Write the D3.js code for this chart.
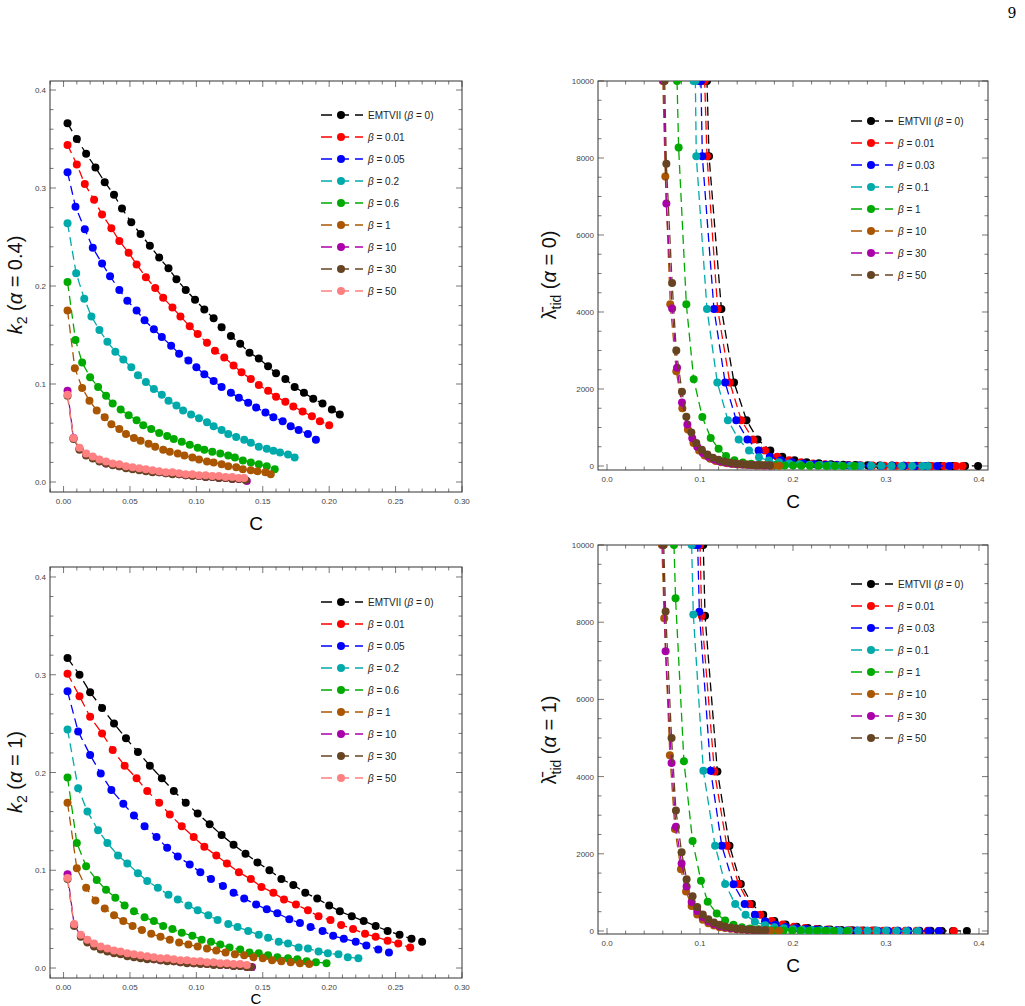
<!DOCTYPE html>
<html><head><meta charset="utf-8">
<script src="https://cdn.jsdelivr.net/npm/d3@7"></script>
<style>body{margin:0;background:#fff}text{font-family:"Liberation Sans",Arial,sans-serif}</style>
</head><body><svg id="c" width="1025" height="1006"></svg>
<script>
// ---------- k2, alpha = 0.4 ----------
const k2a04_black=[[.003,.366],[.010,.350],[.017,.335],[.024,.321],[.031,.306],[.038,.293],[.044,.279],[.051,.265],[.058,.253],[.065,.241],[.072,.229],[.079,.218],[.085,.207],[.092,.196],[.099,.186],[.106,.176],[.113,.167],[.119,.158],[.126,.149],[.133,.141],[.140,.132],[.147,.126],[.154,.118],[.160,.111],[.167,.105],[.174,.097],[.181,.091],[.188,.085],[.195,.080],[.202,.074],[.208,.069]];
const k2a04_red=[[.003,.344],[.010,.324],[.016,.304],[.023,.288],[.029,.273],[.036,.259],[.042,.246],[.049,.234],[.055,.222],[.062,.209],[.069,.198],[.075,.188],[.082,.178],[.088,.169],[.095,.159],[.101,.151],[.108,.142],[.114,.134],[.121,.127],[.128,.119],[.134,.112],[.141,.105],[.147,.099],[.154,.093],[.160,.087],[.167,.082],[.173,.077],[.180,.072],[.187,.067],[.193,.062],[.200,.058]];
const k2a04_blue=[[.003,.316],[.009,.281],[.016,.258],[.022,.239],[.029,.223],[.035,.210],[.042,.196],[.048,.185],[.055,.175],[.061,.165],[.068,.156],[.074,.148],[.081,.139],[.087,.131],[.094,.124],[.100,.117],[.106,.110],[.113,.103],[.119,.097],[.126,.091],[.132,.086],[.139,.081],[.145,.076],[.152,.071],[.158,.066],[.165,.062],[.171,.057],[.177,.053],[.184,.049],[.190,.043]];
const k2a04_cyan=[[.003,.264],[.0095,.213],[.0156,.187],[.021,.169],[.027,.155],[.033,.143],[.039,.133],[.045,.125],[.051,.117],[.056,.109],[.062,.102],[.068,.095],[.074,.089],[.079,.083],[.085,.078],[.090,.073],[.096,.069],[.102,.065],[.108,.061],[.113,.057],[.119,.053],[.124,.049],[.130,.046],[.136,.043],[.141,.040],[.147,.036],[.153,.034],[.158,.032],[.163,.030],[.169,.028],[.174,.025]];
const k2a04_green=[[.003,.204],[.009,.145],[.014,.122],[.020,.107],[.026,.097],[.032,.088],[.037,.080],[.043,.074],[.049,.068],[.055,.063],[.060,.058],[.066,.054],[.072,.050],[.078,.047],[.083,.044],[.089,.041],[.095,.038],[.101,.035],[.106,.033],[.112,.031],[.118,.029],[.124,.027],[.129,.025],[.135,.022],[.141,.020],[.147,.018],[.153,.016],[.159,.013]];
const k2a04_orange=[[.003,.175],[.0085,.116],[.014,.096],[.0195,.083],[.025,.073],[.031,.066],[.036,.059],[.042,.054],[.047,.049],[.053,.045],[.058,.042],[.064,.039],[.069,.036],[.075,.033],[.080,.031],[.086,.029],[.091,.027],[.097,.025],[.102,.023],[.108,.021],[.113,.020],[.119,.018],[.124,.016],[.130,.015],[.135,.013],[.141,.012],[.146,.011],[.152,.010],[.156,.008]];
const k2a04_purple=[[.003,.093],[.0075,.045],[.012,.034],[.017,.028],[.022,.025],[.027,.022],[.032,.019],[.037,.018],[.042,.016],[.047,.015],[.052,.014],[.057,.013],[.062,.012],[.067,.011],[.072,.010],[.077,.009],[.082,.009],[.087,.008],[.092,.007],[.097,.007],[.102,.006],[.107,.005],[.112,.005],[.117,.004],[.122,.004],[.127,.003],[.132,.003],[.138,.001]];
const k2a04_brown=[[.003,.088],[.0075,.044],[.012,.033],[.017,.027],[.022,.024],[.027,.021],[.032,.019],[.037,.017],[.042,.016],[.047,.014],[.052,.013],[.057,.012],[.062,.011],[.067,.010],[.072,.010],[.077,.009],[.082,.008],[.087,.008],[.092,.007],[.097,.006],[.102,.006],[.107,.005],[.112,.005],[.117,.004],[.122,.004],[.127,.003],[.132,.003],[.137,.002]];
const k2a04_pink=[[.003,.089],[.0075,.045],[.012,.035],[.017,.029],[.022,.026],[.027,.023],[.032,.021],[.037,.019],[.042,.018],[.047,.016],[.052,.015],[.057,.014],[.062,.013],[.067,.012],[.072,.011],[.077,.010],[.082,.010],[.087,.009],[.092,.008],[.097,.008],[.102,.007],[.107,.007],[.112,.006],[.117,.006],[.122,.005],[.127,.005],[.132,.004],[.136,.004]];
// ---------- k2, alpha = 1 ----------
const k2a1_black=[[.003,.317],[.012,.300],[.020,.282],[.029,.266],[.038,.250],[.047,.235],[.056,.221],[.065,.207],[.074,.194],[.083,.181],[.092,.169],[.101,.158],[.110,.147],[.119,.136],[.128,.126],[.137,.117],[.146,.108],[.155,.100],[.164,.091],[.173,.085],[.182,.077],[.191,.071],[.200,.064],[.208,.058],[.217,.053],[.226,.048],[.235,.043],[.244,.038],[.253,.034],[.262,.030],[.270,.027]];
const k2a1_red=[[.003,.301],[.012,.278],[.020,.257],[.029,.240],[.037,.223],[.046,.207],[.055,.194],[.063,.181],[.072,.169],[.080,.157],[.089,.145],[.098,.134],[.106,.124],[.115,.115],[.123,.107],[.132,.098],[.141,.091],[.149,.083],[.158,.077],[.166,.070],[.175,.065],[.184,.059],[.192,.053],[.201,.049],[.209,.044],[.218,.040],[.227,.035],[.235,.032],[.244,.028],[.252,.025],[.261,.021]];
const k2a1_blue=[[.003,.283],[.011,.242],[.020,.218],[.028,.199],[.036,.182],[.045,.168],[.053,.156],[.061,.145],[.070,.134],[.078,.123],[.086,.114],[.095,.106],[.103,.098],[.111,.091],[.120,.084],[.128,.077],[.136,.071],[.145,.065],[.153,.060],[.161,.056],[.170,.050],[.178,.046],[.186,.042],[.195,.038],[.203,.033],[.211,.030],[.220,.027],[.228,.023],[.237,.019],[.245,.016]];
const k2a1_cyan=[[.003,.244],[.011,.184],[.018,.160],[.026,.141],[.033,.128],[.041,.115],[.048,.107],[.056,.097],[.063,.089],[.071,.082],[.079,.075],[.086,.070],[.094,.064],[.101,.059],[.109,.054],[.116,.049],[.124,.045],[.131,.042],[.139,.038],[.147,.034],[.154,.031],[.162,.027],[.169,.025],[.177,.021],[.184,.020],[.192,.017],[.199,.015],[.207,.014],[.214,.011],[.222,.010]];
const k2a1_green=[[.003,.195],[.010,.128],[.017,.104],[.025,.090],[.032,.080],[.039,.072],[.046,.064],[.053,.058],[.061,.052],[.068,.048],[.075,.043],[.082,.040],[.089,.036],[.097,.033],[.104,.029],[.111,.027],[.118,.024],[.125,.021],[.133,.019],[.140,.016],[.147,.015],[.154,.013],[.161,.011],[.169,.010],[.176,.009],[.183,.007],[.190,.006],[.198,.005]];
const k2a1_orange=[[.003,.169],[.010,.102],[.017,.082],[.024,.069],[.031,.061],[.038,.054],[.045,.048],[.052,.043],[.059,.039],[.066,.035],[.073,.032],[.080,.029],[.087,.026],[.094,.024],[.101,.022],[.108,.020],[.115,.018],[.122,.016],[.129,.014],[.136,.013],[.143,.011],[.150,.010],[.157,.008],[.164,.007],[.171,.006],[.178,.005],[.185,.004]];
const k2a1_purple=[[.003,.096],[.008,.044],[.013,.033],[.018,.027],[.023,.023],[.028,.020],[.033,.018],[.038,.016],[.043,.015],[.048,.013],[.053,.012],[.058,.011],[.063,.010],[.068,.009],[.073,.008],[.078,.008],[.083,.007],[.088,.006],[.093,.006],[.098,.005],[.103,.005],[.108,.004],[.113,.004],[.118,.003],[.123,.003],[.128,.002],[.133,.002],[.138,.001],[.142,.001]];
const k2a1_brown=[[.003,.091],[.008,.043],[.013,.032],[.018,.026],[.023,.022],[.028,.019],[.033,.017],[.038,.015],[.043,.014],[.048,.012],[.053,.011],[.058,.010],[.063,.009],[.068,.009],[.073,.008],[.078,.007],[.083,.007],[.088,.006],[.093,.005],[.098,.005],[.103,.004],[.108,.004],[.113,.003],[.118,.003],[.123,.003],[.128,.002],[.133,.002],[.138,.001],[.141,.001]];
const k2a1_pink=[[.003,.092],[.008,.045],[.013,.034],[.018,.029],[.023,.025],[.028,.022],[.033,.020],[.038,.018],[.043,.017],[.048,.015],[.053,.014],[.058,.013],[.063,.012],[.068,.011],[.073,.010],[.078,.010],[.083,.009],[.088,.008],[.093,.008],[.098,.007],[.103,.007],[.108,.006],[.113,.006],[.118,.005],[.123,.005],[.128,.004],[.133,.004],[.138,.003]];
// ---------- lambda, alpha = 0 ----------
const lam0_black=[[.105,10000],[.1075,10000],[.1097,8045],[.123,4075],[.1366,2170],[.150,1190],[.162,690],[.1756,400],[.1885,240],[.2016,150],[.2147,100],[.2278,70],[.2409,48],[.254,34],[.2671,25],[.2802,18],[.2933,13],[.3064,10],[.3195,7],[.3326,5],[.3457,4],[.3588,3],[.3719,2],[.385,2],[.399,1]];
const lam0_red=[[.1025,10000],[.1050,10000],[.1075,8045],[.119,4075],[.132,2170],[.1444,1190],[.157,690],[.170,400],[.183,240],[.196,150],[.2088,100],[.2216,68],[.2344,47],[.2472,33],[.26,24],[.2728,17],[.2856,12],[.2984,9],[.3112,7],[.324,5],[.3368,4],[.3496,3],[.3624,2],[.3752,2],[.3824,1]];
const lam0_blue=[[.0990,10000],[.1010,10000],[.1025,8045],[.115,4075],[.127,2170],[.139,1190],[.151,690],[.163,400],[.175,240],[.187,150],[.199,100],[.211,68],[.223,47],[.235,33],[.247,24],[.259,17],[.271,12],[.283,9],[.295,7],[.307,5],[.319,4],[.331,3],[.343,2],[.355,2],[.368,1]];
const lam0_cyan=[[.0930,10000],[.0950,10000],[.0960,8045],[.1075,4075],[.1186,2170],[.130,1190],[.1416,690],[.1527,400],[.1634,225],[.174,140],[.185,95],[.196,65],[.207,45],[.218,32],[.229,23],[.240,17],[.251,12],[.262,9],[.273,7],[.284,5],[.295,4],[.306,3],[.317,2],[.328,2],[.339,1],[.345,1]];
const lam0_green=[[.0753,10000],[.077,8270],[.0853,4200],[.0932,2250],[.1025,1270],[.1115,730],[.120,450],[.128,260],[.137,150],[.146,90],[.155,60],[.164,40],[.173,28],[.182,20],[.191,14],[.200,10],[.209,8],[.218,6],[.227,4],[.236,3],[.245,2],[.254,2],[.266,1]];
const lam0_orange=[[.0600,10000],[.0627,7520],[.068,4200],[.0745,2460],[.081,1500],[.087,950],[.093,600],[.099,400],[.105,270],[.111,185],[.117,130],[.123,95],[.129,70],[.135,52],[.141,40],[.147,30],[.153,23],[.159,18],[.165,14],[.171,11],[.177,8],[.185,6]];
const lam0_purple=[[.0610,10000],[.0638,6820],[.070,4090],[.0753,2550],[.0806,1650],[.0864,1080],[.0917,720],[.097,500],[.103,340],[.109,240],[.115,170],[.121,125],[.127,92],[.133,68],[.139,52],[.145,40],[.151,30],[.157,23],[.163,18],[.169,14],[.175,11]];
const lam0_brown=[[.0620,10000],[.0638,7850],[.070,4750],[.0745,3000],[.0806,1930],[.0853,1280],[.0907,870],[.096,600],[.102,420],[.108,300],[.114,215],[.120,160],[.126,118],[.132,88],[.138,66],[.144,50],[.150,38],[.156,29],[.162,22],[.168,17],[.175,13]];
// ---------- lambda, alpha = 1 ----------
const lam1_black=[[.1010,10000],[.1035,10000],[.1054,8170],[.1187,4130],[.1317,2210],[.1439,1220],[.1558,700],[.168,420],[.180,260],[.192,165],[.204,110],[.216,75],[.228,52],[.240,37],[.252,27],[.264,20],[.276,15],[.288,11],[.300,8],[.312,6],[.324,5],[.336,4],[.348,3],[.360,2],[.372,2],[.387,1]];
const lam1_red=[[.0975,10000],[.1000,10000],[.1018,8170],[.1155,4130],[.1288,2210],[.1414,1220],[.153,700],[.165,420],[.177,260],[.189,165],[.201,110],[.213,75],[.225,52],[.237,37],[.249,27],[.261,20],[.273,15],[.285,11],[.297,8],[.309,6],[.321,5],[.333,4],[.345,3],[.357,2],[.373,1]];
const lam1_blue=[[.0950,10000],[.0975,10000],[.0993,8270],[.1115,4150],[.1234,2210],[.136,1210],[.148,700],[.159,420],[.170,255],[.181,160],[.192,105],[.203,72],[.214,50],[.225,36],[.236,26],[.247,19],[.258,14],[.269,10],[.280,8],[.291,6],[.302,5],[.313,4],[.324,3],[.335,2],[.346,2],[.357,1]];
const lam1_cyan=[[.0910,10000],[.0928,8200],[.1036,4150],[.1162,2210],[.127,1220],[.1378,700],[.149,420],[.159,240],[.170,150],[.180,100],[.190,68],[.200,47],[.210,34],[.220,25],[.230,18],[.240,13],[.250,10],[.260,8],[.270,6],[.280,5],[.290,4],[.300,3],[.311,2],[.322,2],[.334,1]];
const lam1_green=[[.0720,10000],[.0737,8620],[.0827,4400],[.092,2330],[.101,1300],[.1083,760],[.118,450],[.127,270],[.136,160],[.145,100],[.154,65],[.163,44],[.172,30],[.181,21],[.190,15],[.199,11],[.208,8],[.217,6],[.226,4],[.235,3],[.244,2],[.258,1]];
const lam1_orange=[[.0590,10000],[.0615,8100],[.0676,4550],[.073,2640],[.0795,1600],[.085,1020],[.091,650],[.097,430],[.103,290],[.109,200],[.115,140],[.121,100],[.127,75],[.133,55],[.139,42],[.145,32],[.151,25],[.157,19],[.163,15],[.169,12],[.176,9],[.185,7]];
const lam1_purple=[[.0600,10000],[.063,7250],[.0694,4350],[.0741,2700],[.0802,1750],[.0856,1150],[.091,750],[.097,520],[.103,360],[.109,250],[.115,180],[.121,130],[.127,96],[.133,72],[.139,55],[.145,42],[.151,32],[.157,25],[.163,19],[.170,15]];
const lam1_brown=[[.0610,10000],[.063,8280],[.0694,5000],[.0741,3120],[.0802,2040],[.0856,1340],[.092,900],[.097,620],[.103,430],[.109,305],[.115,220],[.121,160],[.127,118],[.133,88],[.139,66],[.145,50],[.151,38],[.157,29],[.163,22],[.170,17]];

const k2Betas=["EMTVII (β = 0)"," β = 0.01","β = 0.05","β = 0.2","β = 0.6","β = 1","β = 10","β = 30","β = 50"];
const lamBetas=["EMTVII (β = 0)"," β = 0.01","β = 0.03","β = 0.1","β = 1","β = 10","β = 30","β = 50"];
const k2Colors=["#000000","#ff0000","#0000ff","#00aaaa","#00aa00","#aa5500","#aa00aa","#664422","#ff8080"];
const lamColors=["#000000","#ff0000","#0000ff","#00aaaa","#00aa00","#aa5500","#aa00aa","#664422"];
const k2XTicks=[0,0.05,0.10,0.15,0.20,0.25,0.30];
const k2YTicks=[0,0.1,0.2,0.3,0.4];
const lamXTicks=[0,0.1,0.2,0.3,0.4];
const lamYTicks=[0,2000,4000,6000,8000,10000];

const svg=d3.select("#c");
svg.append("text").attr("x",1012).attr("y",18).attr("text-anchor","middle").attr("font-size",14).style("font-family","DejaVu Serif,serif").text("9");

let clipId=0;
function panel(o){
  const x=d3.scaleLinear().domain(o.xd).range([o.l,o.r]);
  const y=d3.scaleLinear().domain(o.yd).range([o.b,o.t]);
  const g=svg.append("g");
  const id="clip"+(clipId++);
  g.append("clipPath").attr("id",id).append("rect").attr("x",o.l).attr("y",o.t).attr("width",o.r-o.l).attr("height",o.b-o.t);
  const tk=g.append("g").attr("stroke","#555").attr("stroke-width",0.8);
  const minX=d3.range(o.xd[0],o.xd[1],o.xminor).map(v=>Math.round(v/o.xminor)*o.xminor).filter(v=>v>=o.xd[0]&&v<=o.xd[1]);
  const minY=d3.range(0,o.yd[1]+1e-9,o.yminor).filter(v=>v>=o.yd[0]&&v<=o.yd[1]);
  const isMajX=v=>o.xt.some(t=>Math.abs(t-v)<1e-9), isMajY=v=>o.yt.some(t=>Math.abs(t-v)<1e-6);
  minX.forEach(v=>{const L=isMajX(v)?6:3.5;const px=x(v);
    tk.append("line").attr("x1",px).attr("x2",px).attr("y1",o.b).attr("y2",o.b-L);
    tk.append("line").attr("x1",px).attr("x2",px).attr("y1",o.t).attr("y2",o.t+L);});
  minY.forEach(v=>{const L=isMajY(v)?6:3.5;const py=y(v);
    tk.append("line").attr("y1",py).attr("y2",py).attr("x1",o.l).attr("x2",o.l+L);
    tk.append("line").attr("y1",py).attr("y2",py).attr("x1",o.r).attr("x2",o.r-L);});
  g.append("rect").attr("x",o.l).attr("y",o.t).attr("width",o.r-o.l).attr("height",o.b-o.t).attr("fill","none").attr("stroke","#333").attr("stroke-width",1);
  o.xt.forEach(v=>g.append("text").attr("x",x(v)).attr("y",o.b+12).attr("text-anchor","middle").attr("font-size",8).attr("fill","#444").text(o.xfmt(v)));
  o.yt.forEach(v=>g.append("text").attr("x",o.l-4).attr("y",y(v)+3).attr("text-anchor","end").attr("font-size",8).attr("fill","#444").text(o.yfmt(v)));
  const line=d3.line().x(d=>x(d[0])).y(d=>y(d[1]));
  const pg=g.append("g").attr("clip-path",`url(#${id})`);
  o.series.forEach((s,i)=>{
    pg.append("path").attr("d",line(s)).attr("fill","none").attr("stroke",o.colors[i]).attr("stroke-width",1.3).attr("stroke-dasharray","9,5");
    pg.selectAll(null).data(s).enter().append("circle").attr("cx",d=>x(d[0])).attr("cy",d=>y(d[1])).attr("r",4).attr("fill",o.colors[i]);
  });
  o.labels.forEach((lab,i)=>{
    const yy=o.ly+i*22;
    g.append("line").attr("x1",o.lx).attr("x2",o.lx+42).attr("y1",yy).attr("y2",yy).attr("stroke",o.colors[i]).attr("stroke-width",1.3).attr("stroke-dasharray","11,6");
    g.append("circle").attr("cx",o.lx+20).attr("cy",yy).attr("r",4).attr("fill",o.colors[i]);
    const t=g.append("text").attr("x",o.lx+47).attr("y",yy+3.5).attr("font-size",10).attr("fill","#222");
    lab.split(/(β)/).forEach(p=>{const ts=t.append("tspan").text(p);if(p==="β")ts.attr("font-style","italic");});
  });
  return {x,y,g};
}
function k2Title(g,cx,cy,alpha){
  const t=g.append("text").attr("transform",`translate(${cx},${cy}) rotate(-90)`).attr("text-anchor","middle").attr("font-size",20).attr("fill","#111");
  t.append("tspan").attr("font-style","italic").text("k");
  t.append("tspan").attr("font-size",14).attr("dy",5).text("2");
  t.append("tspan").attr("dy",-5).text(" (");
  t.append("tspan").attr("font-style","italic").text("α");
  t.append("tspan").text(" = "+alpha+")");
}
function lamTitle(g,cx,cy,alpha){
  const t=g.append("text").attr("transform",`translate(${cx},${cy}) rotate(-90)`).attr("text-anchor","middle").attr("font-size",20).attr("fill","#111");
  t.append("tspan").text("λ\u0304");
  t.append("tspan").attr("font-size",14).attr("dy",5).text("tid");
  t.append("tspan").attr("dy",-5).text(" (");
  t.append("tspan").attr("font-style","italic").text("α");
  t.append("tspan").text(" = "+alpha+")");
}
const k2fx=v=>v.toFixed(2), k2fy=v=>v.toFixed(1), lfx=v=>v.toFixed(1), lfy=v=>String(v);

let p=panel({l:50,r:462,t:81,b:492,xd:[-0.0102,0.3],yd:[-0.0102,0.4092],xt:k2XTicks,yt:k2YTicks,xminor:0.01,yminor:0.02,xfmt:k2fx,yfmt:k2fy,
  series:[k2a04_black,k2a04_red,k2a04_blue,k2a04_cyan,k2a04_green,k2a04_orange,k2a04_purple,k2a04_brown,k2a04_pink],colors:k2Colors,labels:k2Betas,lx:321,ly:115});
k2Title(p.g,22,285,"0.4");
p.g.append("text").attr("x",256).attr("y",530).attr("text-anchor","middle").attr("font-size",19).text("C");

p=panel({l:50,r:462,t:567,b:978,xd:[-0.0102,0.3],yd:[-0.0102,0.4102],xt:k2XTicks,yt:k2YTicks,xminor:0.01,yminor:0.02,xfmt:k2fx,yfmt:k2fy,
  series:[k2a1_black,k2a1_red,k2a1_blue,k2a1_cyan,k2a1_green,k2a1_orange,k2a1_purple,k2a1_brown,k2a1_pink],colors:k2Colors,labels:k2Betas,lx:321,ly:602});
k2Title(p.g,22,772,"1");
p.g.append("text").attr("x",256).attr("y",1004).attr("text-anchor","middle").attr("font-size",15).text("C");

p=panel({l:598,r:988,t:81,b:470,xd:[-0.0097,0.4097],yd:[-104,10000],xt:lamXTicks,yt:lamYTicks,xminor:0.02,yminor:500,xfmt:lfx,yfmt:lfy,
  series:[lam0_black,lam0_red,lam0_blue,lam0_cyan,lam0_green,lam0_orange,lam0_purple,lam0_brown],colors:lamColors,labels:lamBetas,lx:851,ly:121});
lamTitle(p.g,556,275,"0");
p.g.append("text").attr("x",793).attr("y",508).attr("text-anchor","middle").attr("font-size",19).text("C");

p=panel({l:598,r:988,t:545,b:934,xd:[-0.0097,0.4097],yd:[-78,10000],xt:lamXTicks,yt:lamYTicks,xminor:0.02,yminor:500,xfmt:lfx,yfmt:lfy,
  series:[lam1_black,lam1_red,lam1_blue,lam1_cyan,lam1_green,lam1_orange,lam1_purple,lam1_brown],colors:lamColors,labels:lamBetas,lx:851,ly:584});
lamTitle(p.g,556,740,"1");
p.g.append("text").attr("x",793).attr("y",972).attr("text-anchor","middle").attr("font-size",19).text("C");
</script></body></html>
